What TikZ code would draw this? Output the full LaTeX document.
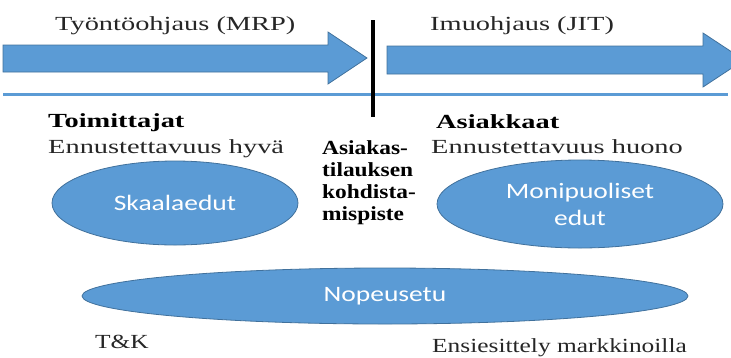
\documentclass[tikz,border=0pt]{standalone}
\usepackage{fontspec}
\setmainfont{Liberation Serif}
\newfontfamily\labelserif[FakeStretch=1.42]{Liberation Serif}
\newfontfamily\footserif[FakeStretch=1.27]{Liberation Serif}
\newfontfamily\midserif[FakeStretch=1.17]{Liberation Serif}
\newfontfamily\bubblesans[FakeStretch=1.25]{Carlito}
\usetikzlibrary{shapes.geometric}
\definecolor{flowblue}{HTML}{5B9BD5}
\definecolor{flowedge}{HTML}{41719C}
\begin{document}
\begin{tikzpicture}[x=1pt,y=-1pt,
  label text/.style={font=\labelserif\fontsize{20}{24}\selectfont, inner sep=0pt, anchor=base west, text=black!85},
  head text/.style={label text, font=\labelserif\bfseries\fontsize{20}{24}\selectfont, text=black},
  foot text/.style={label text, font=\footserif\fontsize{20}{24}\selectfont},
  mid text/.style={font=\midserif\bfseries\fontsize{20}{22}\selectfont, inner sep=0pt, anchor=base west, align=left},
  bubble/.style={ellipse, fill=flowblue, draw=flowedge, line width=0.8pt, text=white,
    font=\bubblesans\fontsize{22}{27}\selectfont, align=center, inner sep=0pt},
  flow arrow/.style={fill=flowblue, draw=flowedge, line width=0.8pt, line join=miter}
]
\useasboundingbox (0,0) rectangle (731,357);
\clip (0,0) rectangle (731,357);

% push and pull flow arrows
\draw[flow arrow] (3,45) -- (328,45) -- (328,32) -- (367,58) -- (328,84) -- (328,72) -- (3,72) -- cycle;
\draw[flow arrow] (387,46) -- (703,46) -- (703,33) -- (744,60) -- (703,87) -- (703,74) -- (387,74) -- cycle;

% separator lines
\coordinate (baseL) at (3,94.5);
\coordinate (baseR) at (728,94.5);
\coordinate (splitT) at (373,20);
\coordinate (splitB) at (373,117);
\draw[flowblue, line width=2.5pt] (baseL) -- (baseR);
\draw[black, line width=4pt] (splitT) -- (splitB);

% arrow captions
\node[label text] (push) at (55,30) {Työntöohjaus (MRP)};
\node[label text] (pull) at (430,30) {Imuohjaus (JIT)};

% supplier side
\node[head text] (supp) at (48,127) {Toimittajat};
\node[label text] (suppf) at (48,153) {Ennustettavuus hyvä};

% customer side
\node[head text] (cust) at (436,128) {Asiakkaat};
\node[label text] (custf) at (431,153) {Ennustettavuus huono};

% decoupling point (anchored on the last line's baseline)
\node[mid text] (codp) at (322,220) {Asiakas-\\tilauksen\\kohdista-\\mispiste};

% benefit ellipses
\node[bubble, minimum width=246pt, minimum height=84pt] (scale) at (175,203) {Skaalaedut};
\node[bubble, minimum width=286pt, minimum height=88pt] (scope) at (580,204) {Monipuoliset\\edut};
\node[bubble, minimum width=606pt, minimum height=56pt] (speed) at (385,296) {Nopeusetu};

% bottom labels
\node[foot text] (rnd) at (95,348) {T\&K};
\node[foot text] (launch) at (432,352) {Ensiesittely markkinoilla};
\end{tikzpicture}
\end{document}
